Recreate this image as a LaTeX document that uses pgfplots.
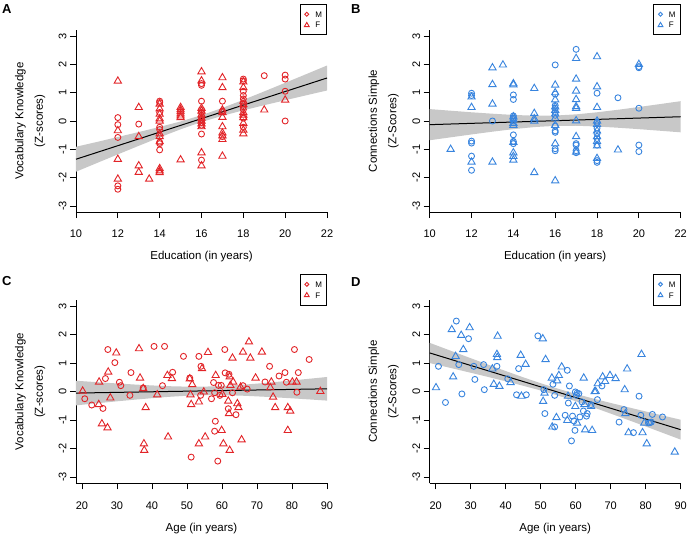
\documentclass[border=0pt]{standalone}
\usepackage{fontspec}
\setmainfont{Liberation Sans}
\usepackage{pgfplots}
\pgfplotsset{compat=1.18}

\definecolor{mred}{RGB}{226,36,40}
\definecolor{mblue}{RGB}{56,132,222}
\definecolor{band}{RGB}{200,200,200}

\pgfplotsset{
  panel/.style={
    scale only axis, width=251pt, anchor=south west,
    axis lines=left, axis line style={-, line width=0.8pt},
    tick align=outside, major tick length=6pt,
    tick style={line width=0.8pt, black},
    ymin=-3.22, ymax=3.22, ytick={-3,...,3},
    /pgf/number format/assume math mode=true,
    tick label style={font=\fontsize{11}{13}\selectfont},
    yticklabel style={rotate=90, anchor=south},
    xticklabel style={yshift=-8.5pt},
    every axis x label/.style={at={(axis description cs:0.5,-0.245)}, anchor=center, font=\fontsize{11.5}{14}\selectfont},
    every axis y label/.style={at={(axis description cs:-0.183,0.5)}, rotate=90, anchor=center, align=center, font=\fontsize{11.5}{19.5}\selectfont},
    legend style={at={(1,1.141)}, anchor=north east, draw=black, line width=0.9pt, text=black,
      font=\fontsize{8}{8}\selectfont, inner xsep=3.6pt, inner ysep=6pt,
      row sep=3.4pt, column sep=4.5pt,
      nodes={inner sep=1pt, text depth=0pt}},
    legend cell align=left,
    legend image code/.code={\path[draw=none, fill=none] (0pt,-2pt) rectangle (6pt,2pt);
      \draw[#1, /tikz/every mark/.append style={scale=0.66}] plot coordinates {(3pt,0pt)};},
  },
  mpts/.style={only marks, mark=o, mark size=3pt, mark options={line width=0.9pt}},
  fpts/.style={only marks, mark=triangle, mark size=4.2pt, mark options={line width=0.9pt}},
}

\begin{document}
\begin{tikzpicture}
\useasboundingbox (0pt,0pt) rectangle (688pt,534pt);

% A
\begin{axis}[panel, at={(76pt,321.8pt)}, height=182.4pt,
  xmin=10, xmax=22, xtick={10,12,...,22},
  xlabel={Education (in years)}, ylabel={Vocabulary Knowledge\\(Z-scores)}]
\addplot[draw=none, fill=band, forget plot] coordinates {
 (10,-0.91) (11,-0.74) (12,-0.565) (13,-0.39) (14,-0.21) (15,-0.016) (16,0.204) (17,0.462) (18,0.747) (19,1.045) (20,1.347) (21,1.652) (22,1.959)
 (22,1.077) (21,0.906) (20,0.733) (19,0.557) (18,0.377) (17,0.184) (16,-0.036) (15,-0.294) (14,-0.579) (13,-0.877) (12,-1.179) (11,-1.484) (10,-1.791)};
\addplot[mpts, color=mred] coordinates {
 (12,0.12) (12,-0.13) (12,-0.58) (12,-2.29) (12,-2.41)
 (13,-0.11)
 (14,0.70) (14,0.65) (14,0.30) (14,-0.22) (14,-0.30) (14,-0.75) (14,-0.80) (14,-1.02)
 (16,1.32) (16,1.26) (16,0.70) (16,0.40) (16,0.30) (16,0.15) (16,0.05) (16,-0.05) (16,-0.15) (16,-0.46) (16,-1.38)
 (17,0.70) (17,0.35) (17,-0.55)
 (18,1.48) (18,1.42) (18,1.05) (18,0.90) (18,0.78) (18,0.62) (18,0.50) (18,0.40) (18,0.10) (18,-0.22)
 (19,1.60)
 (20,1.62) (20,1.48) (20,1.05) (20,0.0)};
\addlegendentry{M}
\addplot[fpts, color=mred] coordinates {
 (12,1.41) (12,-0.34) (12,-1.35) (12,-2.05)
 (13,0.48) (13,-0.55) (13,-1.58) (13,-1.81)
 (13.5,-2.05)
 (14,0.60) (14,0.43) (14,0.24) (14,0.08) (14,0.0) (14,-0.45) (14,-0.55) (14,-0.73) (14,-1.68) (14,-1.76) (14,-1.82)
 (15,0.48) (15,0.40) (15,0.33) (15,0.25) (15,0.18) (15,0.12) (15,-1.37)
 (16,1.74) (16,1.42) (16,0.45) (16,0.35) (16,0.22) (16,0.10) (16,0.0) (16,-0.10) (16,-0.20) (16,-1.12) (16,-1.58)
 (17,1.53) (17,1.18) (17,0.39) (17,0.30) (17,0.13) (17,-0.20) (17,-0.42) (17,-0.52) (17,-0.65) (17,-1.24)
 (18,1.38) (18,1.18) (18,0.70) (18,0.58) (18,0.30) (18,0.21) (18,0.12) (18,-0.08) (18,-0.32) (18,-0.45)
 (19,0.39)
 (20,0.74)};
\addlegendentry{F}
\addplot[black, line width=1pt, forget plot] coordinates {(10,-1.35) (22,1.518)};
\end{axis}

% B
\begin{axis}[panel, at={(429.7pt,321.8pt)}, height=182.4pt,
  xmin=10, xmax=22, xtick={10,12,...,22},
  xlabel={Education (in years)}, ylabel={Connections Simple\\(Z-Scores)}]
\addplot[draw=none, fill=band, forget plot] coordinates {
 (10,0.42) (11,0.363) (12,0.307) (13,0.257) (14,0.214) (15,0.187) (16,0.192) (17,0.234) (18,0.307) (19,0.396) (20,0.494) (21,0.596) (22,0.70)
 (22,-0.40) (21,-0.344) (20,-0.288) (19,-0.238) (18,-0.195) (17,-0.168) (16,-0.172) (15,-0.215) (14,-0.288) (13,-0.377) (12,-0.475) (11,-0.577) (10,-0.68)};
\addplot[mpts, color=mblue] coordinates {
 (12,0.98) (12,0.90) (12,-0.71) (12,-0.78) (12,-1.24) (12,-1.74)
 (13,0.0)
 (14,0.92) (14,0.76) (14,0.18) (14,0.10) (14,0.0) (14,-0.49) (14,-0.72) (14,-0.80)
 (16,1.98) (16,0.95) (16,0.55) (16,0.45) (16,0.30) (16,0.20) (16,-0.18) (16,-0.35) (16,-0.40) (16,-0.98) (16,-1.05)
 (17,2.53) (17,-0.80) (17,-0.85) (17,-1.05) (17,-1.12)
 (18,0.98) (18,-0.05) (18,-0.25) (18,-0.45) (18,-0.62) (18,-0.85) (18,-1.40) (18,-1.46)
 (19,0.82)
 (20,1.92) (20,1.88) (20,0.45) (20,-0.85) (20,-1.08)};
\addlegendentry{M}
\addplot[fpts, color=mblue] coordinates {
 (11,-1.0)
 (12,0.85) (12,0.48) (12,-1.45)
 (13,1.88) (13,1.29) (13,0.60) (13,-1.45)
 (13.5,1.98)
 (14,1.32) (14,1.28) (14,0.15) (14,0.05) (14,-0.08) (14,-0.15) (14,-0.75) (14,-1.12) (14,-1.25) (14,-1.38)
 (15,1.15) (15,0.27) (15,0.08) (15,0.0) (15,-1.82)
 (16,1.27) (16,1.0) (16,0.75) (16,0.50) (16,0.38) (16,0.25) (16,0.10) (16,-0.15) (16,-0.80) (16,-2.11)
 (17,2.21) (17,1.48) (17,1.06) (17,0.76) (17,0.51) (17,0.45) (17,0.01) (17,-0.55) (17,-1.10)
 (18,2.27) (18,1.21) (18,0.48) (18,0.0) (18,-0.12) (18,-0.35) (18,-0.55) (18,-0.72) (18,-0.88) (18,-1.32)
 (19,-1.02)
 (20,2.0)};
\addlegendentry{F}
\addplot[black, line width=1pt, forget plot] coordinates {(10,-0.13) (22,0.15)};
\end{axis}

% C
\begin{axis}[panel, at={(76pt,50.7pt)}, height=183.3pt,
  xmin=18.3, xmax=90, xtick={20,30,...,90},
  xlabel={Age (in years)}, ylabel={Vocabulary Knowledge\\(Z-scores)}]
\addplot[draw=none, fill=band, forget plot] coordinates {
 (18.3,0.382) (25,0.328) (30,0.288) (35,0.251) (40,0.219) (45,0.191) (50,0.176) (55,0.177) (60,0.197) (65,0.234) (70,0.282) (75,0.336) (80,0.393) (85,0.454) (90,0.515)
 (90,-0.315) (85,-0.274) (80,-0.235) (75,-0.198) (70,-0.166) (65,-0.138) (60,-0.123) (55,-0.123) (50,-0.144) (45,-0.181) (40,-0.229) (35,-0.283) (30,-0.34) (25,-0.40) (18.3,-0.482)};
\addplot[mpts, color=mred] coordinates {
 (20.8,-0.25) (22.8,-0.47) (26.0,-0.59) (26.7,0.46) (27.4,1.48) (29.4,1.02) (30.7,0.33) (31.1,0.21)
 (33.7,-0.13) (34.0,0.67) (37.5,0.13) (40.6,1.59) (43.0,0.21) (43.6,1.59) (45.9,0.68) (49.0,1.24)
 (50.8,0.48) (51.2,-2.30) (53.4,1.24) (54.0,0.89) (53.9,-0.13) (57.0,-0.25) (57.6,0.32) (57.9,-0.04)
 (58.1,-1.04) (57.9,-1.39) (58.8,-2.44) (59.0,0.22) (59.4,-0.13) (59.8,0.22) (60.8,1.48) (60.9,0.66)
 (62.0,0.61) (61.8,-0.60) (63.0,-0.04) (64.0,-0.81) (66.0,0.21) (67.2,0.09) (72.3,0.34) (73.6,0.89)
 (76.3,0.55) (78.0,0.67) (78.4,0.33) (80.7,1.48) (81.4,-0.02) (81.8,0.67) (84.9,1.13)};
\addlegendentry{M}
\addplot[fpts, color=mred] coordinates {
 (20.2,0.02) (24.9,0.34) (24.8,-0.45) (25.7,-1.13) (27.3,-1.27) (27.5,0.69) (28.1,-0.22) (29.8,1.36)
 (36.3,1.51) (36.6,0.48) (37.5,0.11) (37.7,-1.83) (37.8,-2.06) (38.2,-0.56) (41.5,-0.11) (44.4,0.57)
 (44.6,-1.59) (45.7,0.46) (50.8,0.45) (51.0,-0.11) (51.2,-0.45) (51.5,0.25) (53.4,-0.36) (53.4,-1.83)
 (54.3,0.81) (54.8,-0.01) (55.2,-1.59) (56.0,1.38) (58.2,0.57) (59.9,-1.36) (60.1,-0.09) (60.4,-1.83)
 (61.8,-0.33) (62.0,-0.77) (62.2,-2.06) (62.2,0.52) (62.4,0.22) (63.0,1.18) (63.2,0.34) (64.4,-0.42)
 (64.7,-0.56) (65.3,0.16) (65.6,-1.69) (66.0,1.39) (67.7,1.75) (68.1,1.18) (69.6,0.48) (71.4,1.39)
 (73.8,0.14) (74.1,0.34) (74.6,-0.19) (75.2,-0.56) (78.8,-1.36) (78.8,-0.56) (79.5,-0.68) (80.1,0.34)
 (81.3,0.34) (88.1,0.01)};
\addlegendentry{F}
\addplot[black, line width=1pt, forget plot] coordinates {(18.3,-0.05) (90,0.10)};
\end{axis}

% D
\begin{axis}[panel, at={(429.7pt,50.7pt)}, height=183.3pt,
  xmin=18.3, xmax=90, xtick={20,30,...,90},
  xlabel={Age (in years)}, ylabel={Connections Simple\\(Z-Scores)}]
\addplot[draw=none, fill=band, forget plot] coordinates {
 (18.3,1.715) (25,1.405) (30,1.176) (35,0.948) (40,0.724) (45,0.505) (50,0.296) (55,0.101) (60,-0.078) (65,-0.242) (70,-0.397) (75,-0.548) (80,-0.696) (85,-0.842) (90,-0.987)
 (90,-1.685) (85,-1.454) (80,-1.224) (75,-0.996) (70,-0.771) (65,-0.55) (60,-0.338) (55,-0.139) (50,0.042) (45,0.207) (40,0.364) (35,0.516) (30,0.664) (25,0.811) (18.3,1.005)};
\addplot[mpts, color=mblue] coordinates {
 (20.8,0.89) (22.8,-0.38) (25.9,2.48) (26.6,0.95) (27.5,-0.08) (29.4,1.86) (30.9,0.89) (31.2,0.43)
 (33.7,0.95) (33.9,0.07) (37.5,0.89) (40.6,0.45) (43.1,-0.11) (43.7,0.81) (45.9,-0.11) (49.2,1.96)
 (50.9,0.07) (51.2,-0.77) (53.5,0.26) (54.0,-0.13) (54.0,-1.24) (57.0,-0.83) (57.6,0.75) (57.9,-0.40)
 (58.2,0.20) (58.8,-1.73) (59.1,-0.86) (59.5,-1.03) (59.8,-1.36) (59.9,-0.01) (60.2,-0.13) (60.4,-0.05)
 (60.9,-0.07) (61.2,-0.89) (61.8,-0.36) (62.2,-0.68) (63.1,-0.86) (63.3,-0.77) (64.4,-0.46) (66.2,-0.28)
 (67.5,0.20) (72.4,-1.07) (73.8,-0.63) (76.5,-1.44) (78.1,-0.16) (78.6,-0.83) (80.8,-1.10) (81.2,-1.09)
 (81.6,-1.07) (81.9,-0.80) (84.8,-0.89)};
\addlegendentry{M}
\addplot[fpts, color=mblue] coordinates {
 (20.1,0.14) (24.6,2.18) (25.0,0.52) (25.7,1.24) (27.3,1.98) (27.9,1.48) (29.7,2.25) (36.2,0.80)
 (36.6,0.26) (37.7,1.95) (37.5,1.31) (37.6,1.20) (38.2,0.19) (41.4,0.32) (44.3,1.28) (44.5,-0.16)
 (45.7,0.96) (50.6,1.86) (50.7,-0.34) (51.1,-0.05) (51.4,1.13) (53.2,0.48) (53.3,-1.24) (54.5,-0.91)
 (54.7,0.38) (55.2,0.57) (56.0,0.87) (57.6,-1.01) (57.8,-0.16) (59.9,-0.52) (60.4,-1.10) (62.3,0.48)
 (62.5,-0.45) (62.7,-1.34) (64.4,-0.52) (64.7,-1.36) (65.4,0.0) (65.7,0.01) (66.3,0.28) (67.7,0.52)
 (68.4,0.36) (69.8,0.57) (71.4,0.46) (74.0,0.07) (74.2,-0.77) (74.7,0.80) (75.1,-1.44) (78.8,1.31)
 (79.1,-1.44) (79.6,-1.10) (80.3,-1.83) (88.3,-2.12)};
\addlegendentry{F}
\addplot[black, line width=1pt, forget plot] coordinates {(18.3,1.36) (90,-1.336)};
\end{axis}

\node[anchor=base west, font=\bfseries\fontsize{13}{13}\selectfont, inner sep=0pt] at (2pt,520pt) {A};
\node[anchor=base west, font=\bfseries\fontsize{13}{13}\selectfont, inner sep=0pt] at (351pt,520pt) {B};
\node[anchor=base west, font=\bfseries\fontsize{13}{13}\selectfont, inner sep=0pt] at (2pt,248.7pt) {C};
\node[anchor=base west, font=\bfseries\fontsize{13}{13}\selectfont, inner sep=0pt] at (351pt,247pt) {D};
\end{tikzpicture}
\end{document}
